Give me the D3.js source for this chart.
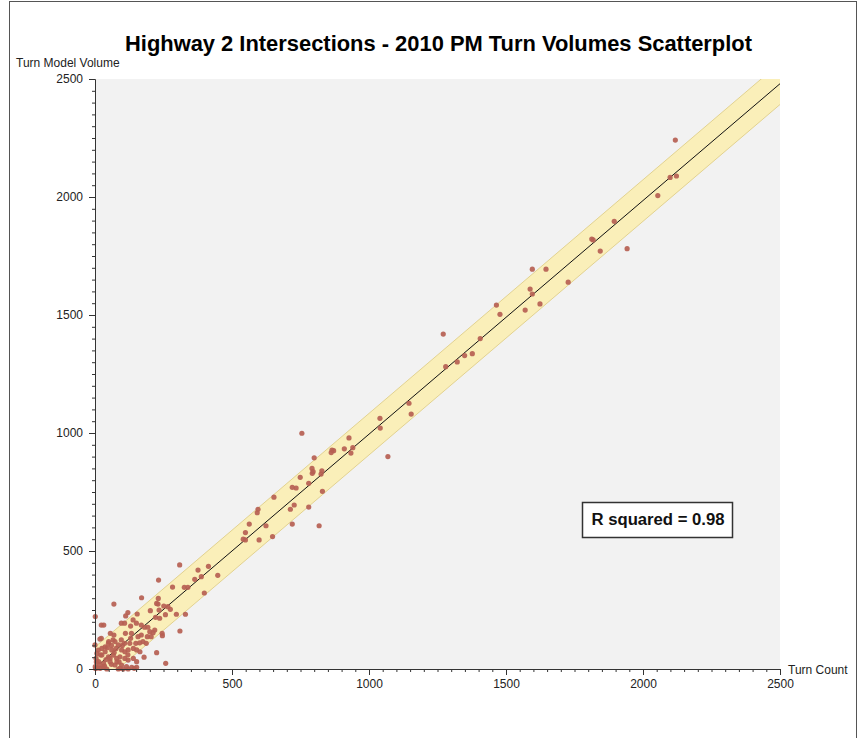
<!DOCTYPE html>
<html><head><meta charset="utf-8">
<script src="https://cdn.jsdelivr.net/npm/d3@7"></script>
<style>
html,body{margin:0;padding:0;background:#fff;}
svg{display:block;}
</style></head>
<body>
<svg id="chart" width="858" height="738"></svg>
<script>
// ---------- data ----------
const chartTitle = "Highway 2 Intersections - 2010 PM Turn Volumes Scatterplot";
const xAxisTitle = "Turn Count";
const yAxisTitle = "Turn Model Volume";
const majorTicks = [0, 500, 1000, 1500, 2000, 2500];
const minorStep = 50;
const rSquaredLabel = "R squared = 0.98";
const fitSlope = 0.99;
const fitIntercept = 5;
const bandHalfWidth = 88;
const fitStart = 19;

const turnCount = [
 2118,2099,2122,2054,1895,1813,1818,1844,1942,1727,
 1646,1596,1588,1596,1624,1570,1465,1478,1271,1406,1377,1349,1322,1280,
 1146,1154,1040,1041,1069,
 927,865,871,862,910,941,934,
 755,800,792,796,793,828,825,749,780,830,720,734,653,713,727,780,720,818,
 595,592,624,648,563,549,541,549,599,
 309,414,376,232,364,388,448,283,326,339,399,
 225,230,251,266,202,234,275,297,330,257,221,236,
 69,170,231,
 310,246,225,258,179,
 120,112,154,1,23,32,96,108,130,139,151,169,181,193,200,212,218,245,191,205,157,169,133,111,56,69,66,50,96,108,127,149,163,175,187,23,0,18,
 7,25,37,49,67,79,91,109,121,140,152,13,31,55,73,97,115,134,1,19,43,85,103,152,4,61,77,97,109,121,140,152,164,85,73,37,49,25,
 15,40,60,10,5,30,2,20,80,70,45,100,120,60,130,91,121,143,35,55,88,12
];
const modelVolume = [
 2241,2083,2089,2006,1897,1822,1818,1771,1781,1639,
 1694,1694,1610,1589,1547,1521,1542,1503,1419,1400,1336,1328,1301,1281,
 1126,1080,1062,1021,900,
 979,928,925,917,933,938,915,
 999,895,850,836,829,840,826,812,787,753,770,767,728,677,695,686,614,607,
 677,662,607,561,614,578,550,547,547,
 441,435,419,377,380,391,397,347,346,346,322,
 278,275,267,264,247,250,253,232,232,230,219,215,
 275,302,299,
 161,141,69,24,50,
 239,225,233,222,186,186,194,194,182,208,194,186,177,177,158,154,165,151,137,137,137,144,151,151,151,144,123,116,123,109,109,109,111,116,109,130,102,127,
 66,59,73,52,59,45,52,45,38,45,31,31,24,31,17,17,10,7,10,3,0,0,0,7,45,81,87,81,73,81,87,81,73,102,116,94,109,87,
 20,40,20,5,30,10,2,60,30,70,90,100,60,100,130,3,0,3,12,45,30,80
];

// ---------- layout ----------
const svg = d3.select("#chart");
const FONT = "'Liberation Sans', Arial, sans-serif";
const x = d3.scaleLinear().domain([0, 2500]).range([95, 780]);
const y = d3.scaleLinear().domain([0, 2500]).range([669, 79]);
const minorTicks = d3.range(0, 2500 + 1, minorStep);

// outer frame
svg.append("rect").attr("x", 9.5).attr("y", 1.5).attr("width", 847).attr("height", 760)
  .attr("fill", "none").attr("stroke", "#555").attr("stroke-width", 1);

// plot background
svg.append("rect").attr("x", x(0)).attr("y", y(2500))
  .attr("width", x(2500) - x(0)).attr("height", y(0) - y(2500))
  .attr("fill", "#f2f2f2");

svg.append("clipPath").attr("id", "plotclip").append("rect")
  .attr("x", x(0)).attr("y", y(2500))
  .attr("width", x(2500) - x(0)).attr("height", y(0) - y(2500));

const fit = v => fitIntercept + fitSlope * v;
const plot = svg.append("g").attr("clip-path", "url(#plotclip)");

// confidence band
const bandX = [0, 2500];
plot.append("path").datum(bandX)
  .attr("d", d3.area().x(d => x(d)).y0(d => y(fit(d) - bandHalfWidth)).y1(d => y(fit(d) + bandHalfWidth)))
  .attr("fill", "#faefb9");
[-bandHalfWidth, bandHalfWidth].forEach(off => {
  plot.append("path").datum(bandX)
    .attr("d", d3.line().x(d => x(d)).y(d => y(fit(d) + off)))
    .attr("fill", "none").attr("stroke", "#e2d290").attr("stroke-width", 1);
});

// regression line
plot.append("path").datum([fitStart, 2500])
  .attr("d", d3.line().x(d => x(d)).y(d => y(fit(d))))
  .attr("fill", "none").attr("stroke", "#111").attr("stroke-width", 1);

// points
const pts = d3.range(Math.min(turnCount.length, modelVolume.length)).map(i => [turnCount[i], modelVolume[i]]);
svg.append("g").selectAll("circle").data(pts).join("circle")
  .attr("cx", d => x(d[0])).attr("cy", d => y(d[1])).attr("r", 2.6)
  .attr("fill", "#b65f52").attr("fill-opacity", 0.92);

// axes
function styleAxis(g) {
  g.selectAll("path,line").attr("stroke", "#333");
  g.selectAll("text").attr("fill", "#222").style("font-family", FONT).style("font-size", "12px");
}
svg.append("g").attr("transform", `translate(${x(0)},0)`)
  .call(d3.axisLeft(y).tickValues(minorTicks).tickSize(3).tickSizeOuter(0).tickFormat(""))
  .call(styleAxis);
svg.append("g").attr("transform", `translate(${x(0)},0)`)
  .call(d3.axisLeft(y).tickValues(majorTicks).tickSize(6).tickSizeOuter(0).tickPadding(6).tickFormat(d3.format("d")))
  .call(styleAxis);
svg.append("g").attr("transform", `translate(0,${y(0)})`)
  .call(d3.axisBottom(x).tickValues(minorTicks).tickSize(3).tickSizeOuter(0).tickFormat(""))
  .call(styleAxis);
svg.append("g").attr("transform", `translate(0,${y(0)})`)
  .call(d3.axisBottom(x).tickValues(majorTicks).tickSize(6).tickSizeOuter(0).tickPadding(4.5).tickFormat(d3.format("d")))
  .call(styleAxis);

// axis titles
svg.append("text").attr("x", 16).attr("y", 66.5).text(yAxisTitle)
  .style("font-family", FONT).style("font-size", "12px").attr("fill", "#222");
svg.append("text").attr("x", 788).attr("y", 673.5).text(xAxisTitle)
  .style("font-family", FONT).style("font-size", "12px").attr("fill", "#222");

// title
svg.append("text").attr("x", 125).attr("y", 51).text(chartTitle)
  .style("font-family", FONT).style("font-size", "22px").style("font-weight", "bold")
  .attr("textLength", 627).attr("lengthAdjust", "spacingAndGlyphs").attr("fill", "#000");

// R squared box
svg.append("rect").attr("x", 582.5).attr("y", 502.5).attr("width", 150).attr("height", 35)
  .attr("fill", "#fff").attr("stroke", "#333").attr("stroke-width", 1.5);
svg.append("text").attr("x", 591.5).attr("y", 524.5).text(rSquaredLabel)
  .style("font-family", FONT).style("font-size", "16px").style("font-weight", "bold")
  .attr("textLength", 133).attr("lengthAdjust", "spacingAndGlyphs").attr("fill", "#111");
</script>
</body></html>
